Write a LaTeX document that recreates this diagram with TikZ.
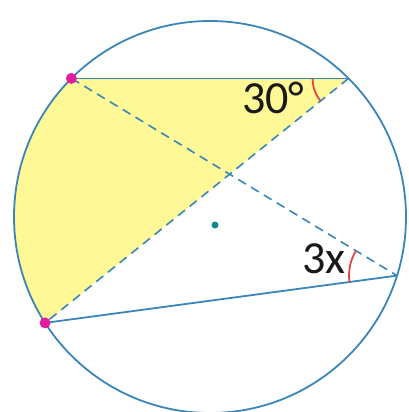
\documentclass[tikz,border=0pt]{standalone}
\usepackage{fontspec}
\setmainfont{Carlito}
\usetikzlibrary{calc}
\definecolor{lineblue}{RGB}{58,134,184}
\definecolor{fillyellow}{RGB}{255,248,150}
\definecolor{dotmag}{RGB}{226,30,160}
\definecolor{angred}{RGB}{228,70,70}
\definecolor{centerteal}{RGB}{20,135,145}
\definecolor{txt}{RGB}{25,25,25}
\tikzset{
  chord/.style={draw=lineblue, line width=1.8pt},
  dashchord/.style={draw=lineblue, line width=1.6pt, dash pattern=on 9pt off 6pt},
  angmark/.style={draw=angred, line width=1.8pt},
  ptdot/.style={circle, fill=dotmag, inner sep=0pt, minimum size=11pt},
  lbl/.style={text=txt, font=\fontsize{46}{50}\selectfont, inner sep=0pt}
}
\begin{document}
\begin{tikzpicture}[x=1pt,y=-1pt]
\useasboundingbox (0,0) rectangle (408,412);
\coordinate (O) at (210,217);
\coordinate (A) at ($(O)+(-135:196)$);
\coordinate (B) at ($(O)+(-45:196)$);
\coordinate (C) at ($(O)+(147.3:196)$);
\coordinate (D) at ($(O)+(17.4:196)$);
% yellow region
\fill[fillyellow] (A) -- (B) -- (C) arc[start angle=147.3, end angle=225, radius=196] -- cycle;
% circle
\draw[draw=lineblue, line width=1.8pt] (O) circle[radius=196];
% chords
\draw[chord] (A) -- (B);
\draw[chord] (C) -- (D);
\draw[dashchord] (A) -- (D);
\draw[dashchord] (B) -- (C);
% angle marks
\draw[angmark] (B) ++(141.1:36) arc[start angle=141.1, end angle=180, radius=36];
\draw[angmark] (D) ++(172.3:48) arc[start angle=172.3, end angle=211.2, radius=48];
% labels
\node[lbl, anchor=base west] (l30) at (242,113) {30°};
\node[lbl, anchor=base west] (l3x) at (302,273) {3x};
% dots
\node[ptdot] (dA) at (A) {};
\node[ptdot] (dC) at (C) {};
\node[circle, fill=centerteal, inner sep=0pt, minimum size=7pt] (ctr) at (215,225) {};
\end{tikzpicture}
\end{document}
